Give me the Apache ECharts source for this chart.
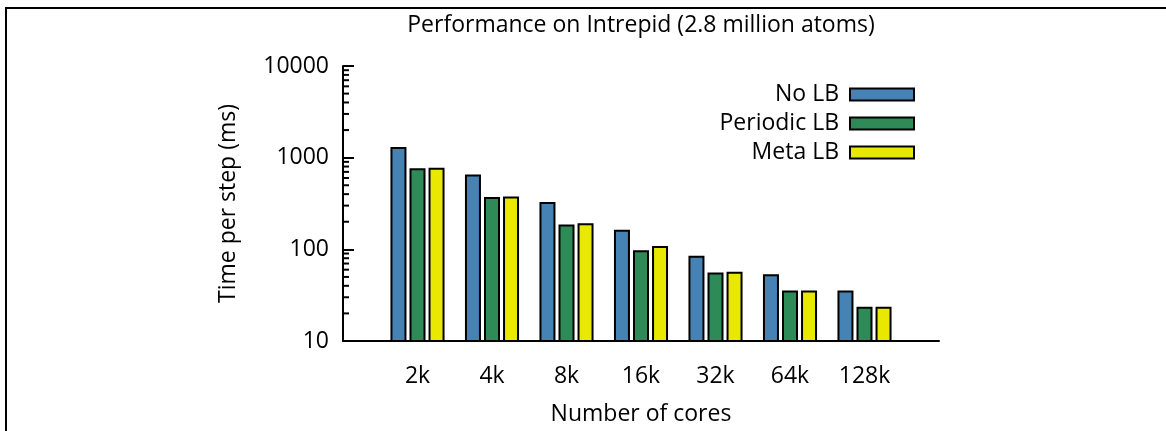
<!DOCTYPE html>
<html>
<head>
<meta charset="utf-8">
<script src="https://cdn.jsdelivr.net/npm/echarts@6/dist/echarts.min.js"></script>
<style>
  html, body { margin: 0; padding: 0; background: #fff; }
  #chart { width: 1166px; height: 431px; }
</style>
</head>
<body>
<div id="chart"></div>
<script>
// 数据
var cores = ['2k', '4k', '8k', '16k', '32k', '64k', '128k'];
var noLB = [1310, 656, 329, 164, 85, 53.5, 35.5];
var periodicLB = [768, 372, 187, 97.5, 56, 35.5, 23.7];
var metaLB = [778, 378, 193, 109, 57, 35.5, 23.7];
var yTicks = [10, 100, 1000, 10000];

var FONT = 'Open Sans';
var FS = 23;

// 左右各留一个空位, 让第一组和最后一组离坐标轴端点有间距
function pad(arr, blank) {
    return [blank].concat(arr, [blank]);
}

// 对数轴的次刻度 (2..9 每个十进位)
var minorTicks = [];
for (var d = 10; d < 10000; d *= 10) {
    for (var m = 2; m <= 9; m++) {
        minorTicks.push([0, m * d]);
    }
}

var myChart = echarts.init(document.getElementById('chart'));

var barStyle = function (color) {
    return { color: color, borderColor: '#000', borderWidth: 2 };
};

var option = {
    animation: false,
    title: {
        text: 'Performance on Intrepid (2.8 million atoms)',
        left: 636,
        textAlign: 'center',
        top: 9,
        textStyle: { fontFamily: FONT, fontSize: FS, fontWeight: 'normal', color: '#000' }
    },
    legend: {
        data: ['No LB', 'Periodic LB', 'Meta LB'],
        orient: 'vertical',
        align: 'right',
        right: 246,
        top: 78,
        itemWidth: 64,
        itemHeight: 12,
        itemGap: 6,
        icon: 'rect',
        textStyle: { fontFamily: FONT, fontSize: FS, color: '#000', lineHeight: 22.5, padding: [0, 6, 0, 0] }
    },
    grid: { left: 343, right: 227, top: 66, bottom: 85, containLabel: false },
    xAxis: {
        type: 'category',
        data: pad(cores, ''),
        boundaryGap: false,
        name: 'Number of cores',
        nameLocation: 'middle',
        nameGap: 62,
        nameTextStyle: { fontFamily: FONT, fontSize: FS, color: '#000' },
        axisLine: { lineStyle: { color: '#000', width: 2 } },
        axisTick: { show: false },
        axisLabel: { fontFamily: FONT, fontSize: FS, color: '#000', margin: 24, interval: 0 },
        splitLine: { show: false }
    },
    yAxis: {
        type: 'log',
        logBase: 10,
        min: yTicks[0],
        max: yTicks[yTicks.length - 1],
        name: 'Time per step (ms)',
        nameLocation: 'middle',
        nameGap: 103,
        nameTextStyle: { fontFamily: FONT, fontSize: FS, color: '#000' },
        axisLine: { show: true, lineStyle: { color: '#000', width: 2 } },
        axisTick: { show: true, inside: true, length: 11, lineStyle: { color: '#000', width: 2 } },
        axisLabel: {
            fontFamily: FONT, fontSize: FS, color: '#000', margin: 14,
            formatter: function (v) { return String(Math.round(v)); }
        },
        splitLine: { show: false }
    },
    graphic: [
        { type: 'line', shape: { x1: 6, y1: 8, x2: 1166, y2: 8 }, style: { stroke: '#000', lineWidth: 2 } },
        { type: 'line', shape: { x1: 6, y1: 7, x2: 6, y2: 431 }, style: { stroke: '#000', lineWidth: 2 } }
    ],
    series: [
        {
            name: 'No LB', type: 'bar', data: pad(noLB, '-'),
            barWidth: 16, barGap: '19%', itemStyle: barStyle('#4682B4')
        },
        {
            name: 'Periodic LB', type: 'bar', data: pad(periodicLB, '-'),
            barWidth: 16, barGap: '19%', itemStyle: barStyle('#2E8B57')
        },
        {
            name: 'Meta LB', type: 'bar', data: pad(metaLB, '-'),
            barWidth: 16, barGap: '19%', itemStyle: barStyle('#E8E800')
        },
        {
            // 次刻度
            type: 'custom',
            silent: true,
            clip: false,
            data: minorTicks,
            renderItem: function (params, api) {
                var p = api.coord([0, api.value(1)]);
                return {
                    type: 'line',
                    shape: { x1: p[0], y1: p[1], x2: p[0] + 6, y2: p[1] },
                    style: { stroke: '#000', lineWidth: 2 }
                };
            }
        }
    ]
};

myChart.setOption(option);
</script>
</body>
</html>
